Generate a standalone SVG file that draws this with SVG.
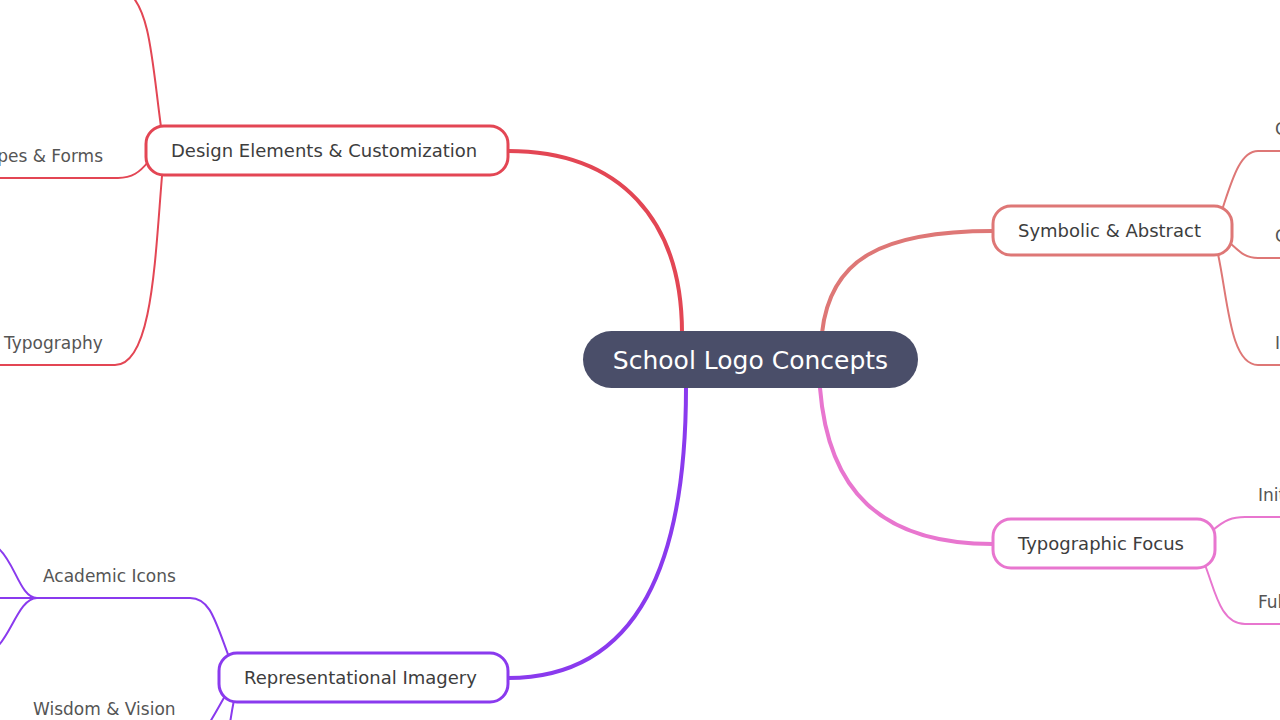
<svg xmlns="http://www.w3.org/2000/svg" width="1280" height="720" viewBox="0 0 1280 720">
<style>
.main{fill:#fff;stroke-width:3}
.mt{font-family:"DejaVu Sans",sans-serif;font-size:18px;fill:#3d3d3d}
.ct{font-family:"DejaVu Sans",sans-serif;font-size:17px;fill:#555}
.trunk{fill:none;stroke-width:4;stroke-linecap:round}
.twig{fill:none;stroke-width:2}
.red{stroke:#e34654}
.sal{stroke:#de7776}
.pink{stroke:#e876cf}
.pur{stroke:#8a3aee}
</style>
<rect width="1280" height="720" fill="#fff"/>
<g id="connectors">
  <path class="trunk red" d="M682 333 C682 220 620 151 508 151"/>
  <path class="trunk sal" d="M822 333 C830 260 880 231 993 231"/>
  <path class="trunk pink" d="M820 388 C828 490 880 544 993 544"/>
  <path class="trunk pur" d="M686 388 C686 560 640 678 508 678"/>
  <path class="twig red" d="M161 127 C152 60 150 10 128 -8"/>
  <path class="twig red" d="M148 162 C140 172 132 178 118 178 L-10 178"/>
  <path class="twig red" d="M162 176 C155 260 152 365 115 365 L-10 365"/>
  <path class="twig sal" d="M1222 210 C1232 180 1240 151 1258 151 L1290 151"/>
  <path class="twig sal" d="M1230 243 C1240 252 1245 258 1258 258 L1290 258"/>
  <path class="twig sal" d="M1218 254 C1228 300 1230 365 1258 365 L1290 365"/>
  <path class="twig pink" d="M1213 530 C1225 520 1232 517 1245 517 L1290 517"/>
  <path class="twig pink" d="M1205 565 C1215 590 1220 624 1245 624 L1290 624"/>
  <path class="twig pur" d="M229 657 C215 620 210 598 190 598 L37 598"/>
  <path class="twig pur" d="M37 598 C20 598 15 562 -2 548"/>
  <path class="twig pur" d="M37 598 L-10 598"/>
  <path class="twig pur" d="M37 598 C20 598 12 632 -2 646"/>
  <path class="twig pur" d="M225 696 C218 708 214 716 205 730"/>
  <path class="twig pur" d="M234 700 C232 710 231 716 229 730"/>
</g>
<g id="center">
  <rect x="583" y="331" width="335" height="57" rx="28.5" fill="#4a4e69"/>
  <text x="750.5" y="368.5" text-anchor="middle" font-family="DejaVu Sans, sans-serif" font-size="25" fill="#fff">School Logo Concepts</text>
</g>
<g id="design">
  <rect class="main red" x="146" y="126" width="362" height="49" rx="18"/>
  <text class="mt" x="171" y="157">Design Elements &amp; Customization</text>
</g>
<g id="symbolic">
  <rect class="main sal" x="993" y="206" width="239" height="49" rx="18"/>
  <text class="mt" x="1018" y="237">Symbolic &amp; Abstract</text>
</g>
<g id="typographic">
  <rect class="main pink" x="993" y="519" width="222" height="49" rx="18"/>
  <text class="mt" x="1018" y="550">Typographic Focus</text>
</g>
<g id="representational">
  <rect class="main pur" x="219" y="653" width="289" height="49" rx="18"/>
  <text class="mt" x="244" y="684">Representational Imagery</text>
</g>
<g id="shapes"><text class="ct" x="103" y="162" text-anchor="end">pes &amp; Forms</text></g>
<g id="typography"><text class="ct" x="4" y="349">Typography</text></g>
<g id="academic"><text class="ct" x="43" y="582">Academic Icons</text></g>
<g id="wisdom"><text class="ct" x="33" y="715">Wisdom &amp; Vision</text></g>
<g id="sym1"><text class="ct" x="1275" y="135">C</text></g>
<g id="sym2"><text class="ct" x="1275" y="242">C</text></g>
<g id="sym3"><text class="ct" x="1275" y="349">I</text></g>
<g id="typo1"><text class="ct" x="1258" y="501">Init</text></g>
<g id="typo2"><text class="ct" x="1258" y="608">Ful</text></g>
</svg>
